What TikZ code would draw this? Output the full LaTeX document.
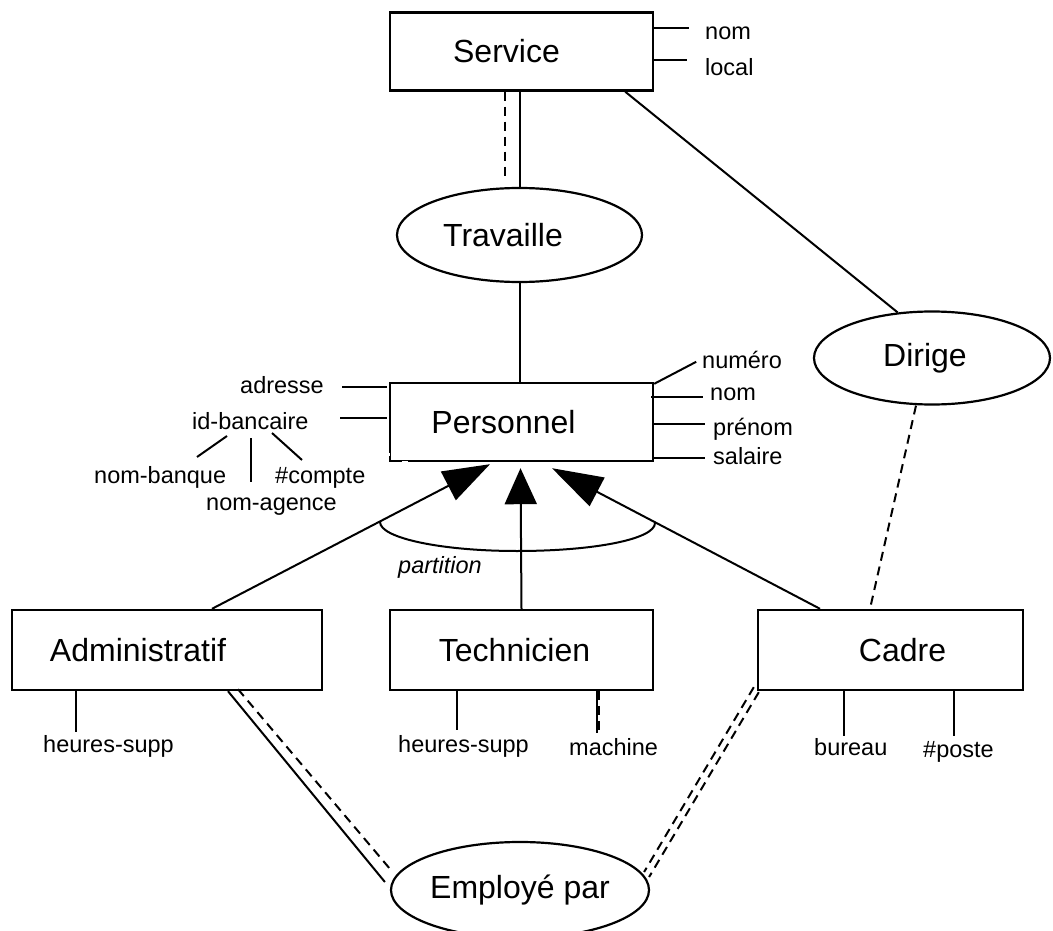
\documentclass[tikz,border=0pt]{standalone}
\usepackage{fontspec}
\setmainfont{Liberation Sans}
\usetikzlibrary{shapes.geometric,arrows.meta,calc}

\begin{document}
\begin{tikzpicture}[x=1pt,y=-1pt,
    entity/.style={draw,rectangle,line width=2.4pt,inner sep=0pt,minimum width=263pt,minimum height=78pt,font=\fontsize{32}{38}\selectfont},
    relation/.style={draw,ellipse,line width=2.2pt,inner sep=0pt,font=\fontsize{32}{38}\selectfont},
    attr/.style={inner sep=0pt,anchor=base west,font=\fontsize{23.5}{28}\selectfont},
    link/.style={line width=2pt},
    opt/.style={line width=2pt,dash pattern=on 9pt off 6pt},
    isa/.style={line width=2pt,-{Triangle[length=#1,width=32pt]}},
    isa/.default=47pt]

\clip (0,0) rectangle (1053,931);

% entities and relations
\node[entity] (srv) at (521.5,51.5) {Service\kern30pt};
\node[relation,minimum width=245pt,minimum height=94pt] (trav) at (519.5,235) {Travaille\kern33pt};
\node[relation,minimum width=236pt,minimum height=93pt] (dir) at (932,358) {Dirige\kern14pt};
\node[entity] (per) at (521.5,422) {Personnel\kern36pt};
\node[entity,minimum width=310pt,minimum height=80pt] (adm) at (167,650) {Administratif\kern58pt};
\node[entity,minimum height=80pt] (tech) at (521.5,650) {Technicien\kern14pt};
\node[entity,minimum width=265pt,minimum height=80pt] (cad) at (890.5,650) {\kern24pt Cadre};
\node[relation,minimum width=258pt,minimum height=96pt] (emp) at (520,890) {Employé par};

% attribute names
\foreach \nm/\x/\y/\txt in {srvnom/705/40/nom, srvloc/705/76/local,
    numero/702/368/numéro, pernom/710/400/nom, prenom/713/435/prénom, salaire/713/464/salaire,
    adresse/240/393/adresse, idb/192/429/id-bancaire,
    banque/94/483/nom-banque, compte/275/483/\#compte, agence/206/510/nom-agence,
    admhs/43/752/heures-supp, techhs/398/752/heures-supp, machine/569/755/machine,
    bureau/814/755/bureau, poste/923/757/\#poste}
{
    \node[attr] (\nm) at (\x,\y) {\txt};
}

% attribute lines
\draw[link] ($(srv.north east)+(0,17)$) -- ++(35,0);
\draw[link] ($(srv.north east)+(0,49)$) -- ++(33,0);
\draw[link] ($(per.north east)+(0,2)$) -- ++(42,-22);
\draw[link] ($(per.north east)+(-3,15)$) -- ++(52,0);
\draw[link] ($(per.east)+(0,2)$) -- ++(51,0);
\draw[link] ($(per.south east)+(0,-4)$) -- ++(51,0);
\draw[link] ($(per.north west)+(-2,5)$) -- ++(-45,0);
\draw[link] ($(per.north west)+(-2,36)$) -- ++(-47,0);
\draw[link] ($(idb.base west)+(35,7)$) -- ++(-30,21);
\draw[link] ($(idb.base west)+(59,9)$) -- ++(0,44);
\draw[link] ($(idb.base west)+(80,4)$) -- ++(30,27);
\draw[link] ($(adm.south west)+(65,0)$) -- ++(0,41);
\draw[link] ($(tech.south west)+(68,0)$) -- ++(0,39);
\draw[link] ($(tech.south west)+(208,0)$) -- ++(0,42);
\draw[opt] ($(tech.south west)+(210,0)$) -- ++(0,42);
\draw[link] ($(cad.south west)+(87,0)$) -- ++(0,45);
\draw[link] ($(cad.south west)+(197,0)$) -- ++(0,45);

% broken corner of Personnel
\draw[white,line width=3pt] ($(per.south west)+(0,-9)$) -- ++(0,3);
\draw[white,line width=3pt] ($(per.south west)+(13,0)$) -- ++(6,0);

% relations
\draw[link] (trav.north) -- (trav.north |- srv.south);
\draw[opt] ($(trav.north |- srv.south)+(-15,0)$) -- ++(0,88);
\draw[link] (trav.south) -- (trav.south |- per.north);
\draw[link] ($(srv.south east)+(-29,0)$) -- (dir.127);
\draw[opt] ($(dir.south)+(-16,0)$) -- ($(cad.north)+(-20.5,0)$);
\draw[link] ($(adm.south)+(61,0)$) -- ($(emp.west)+(-5,-8)$);
\draw[opt] ($(adm.south)+(71,-2)$) -- ($(emp.west)+(1,-20)$);
\draw[opt] ($(cad.south west)+(-3,-4)$) -- ($(emp.east)+(-6,-18)$);
\draw[opt] ($(cad.south west)+(2,1)$) -- ($(emp.east)+(-1,-13)$);

% specialisation
\draw[isa] ($(adm.north)+(45,0)$) -- ($(per.south)+(-31.5,2)$);
\draw[isa=36pt] (tech.north) -- ($(per.south)+(-1,6)$);
\draw[isa=51pt] ($(cad.north)+(-70.5,0)$) -- ($(per.south)+(30.5,6)$);
\draw[link] (380,522) .. controls (380,538) and (441,551) .. (517,551)
    .. controls (595,551) and (655,539) .. (655,523);
\node[attr,font=\fontsize{23.5}{28}\selectfont\itshape] (part) at (398,573) {partition};

\end{tikzpicture}
\end{document}
